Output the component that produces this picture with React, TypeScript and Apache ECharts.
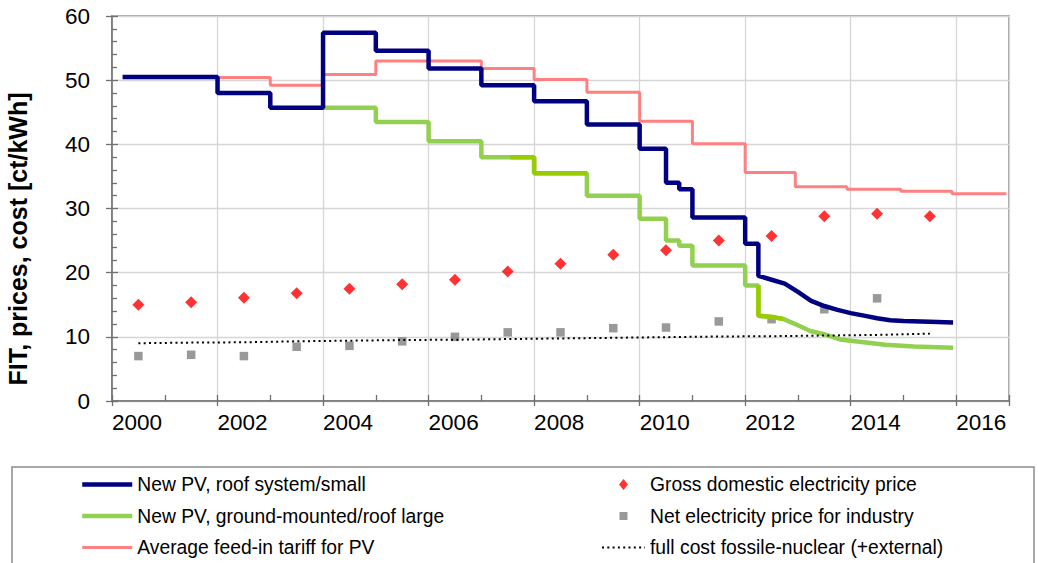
import React, { useEffect, useRef } from 'react';
import * as echarts from 'echarts';

// ---- Data ----
// Step series: value i applies from year i to year i+1
const roofStepYears = [2000.2, 2002, 2003, 2004, 2005, 2006, 2007, 2008, 2009, 2010, 2010.5, 2010.75, 2011, 2012, 2012.25];
const roofStepValues = [50.5, 48.0, 45.7, 57.4, 54.6, 51.8, 49.2, 46.7, 43.1, 39.3, 34.0, 33.0, 28.6, 24.5];
const roofTailYears = [2012.25, 2012.5, 2012.75, 2013.0, 2013.25, 2013.5, 2013.75, 2014.0, 2014.25, 2014.5, 2014.75, 2015.0, 2015.5, 2015.94];
const roofTailValues = [19.5, 18.9, 18.3, 17.0, 15.6, 14.8, 14.2, 13.7, 13.3, 12.9, 12.6, 12.45, 12.35, 12.25];

const groundStepYears = [2004, 2005, 2006, 2007, 2008, 2009, 2010, 2010.5, 2010.75, 2011, 2012, 2012.25];
const groundStepValues = [45.7, 43.5, 40.5, 38.0, 35.5, 32.0, 28.4, 25.0, 24.2, 21.1, 18.0];
const groundTailYears = [2012.25, 2012.5, 2012.72, 2013.0, 2013.23, 2013.5, 2013.8, 2014.0, 2014.25, 2014.65, 2015.2, 2015.94];
const groundTailValues = [13.3, 13.1, 12.8, 11.8, 10.9, 10.4, 9.6, 9.4, 9.15, 8.75, 8.5, 8.3];

// darker green highlighted parts of the ground-mounted curve
const groundDarkA = [[2007.55, 38.0], [2008, 38.0], [2008, 35.5], [2009, 35.5]];
const groundDarkB = [[2012.25, 18.0], [2012.25, 13.3], [2012.5, 13.1], [2012.72, 12.8]];

const avgStepYears = [2002, 2003, 2004, 2005, 2007, 2008, 2009, 2010, 2011, 2012, 2012.95, 2013.93, 2014.95, 2015.92, 2016.95];
const avgStepValues = [50.4, 49.2, 50.9, 53.0, 51.8, 50.1, 48.1, 43.6, 40.1, 35.6, 33.4, 33.0, 32.7, 32.3];

const grossYears = [2000.5, 2001.5, 2002.5, 2003.5, 2004.5, 2005.5, 2006.5, 2007.5, 2008.5, 2009.5, 2010.5, 2011.5, 2012.5, 2013.5, 2014.5, 2015.5];
const grossValues = [15.0, 15.4, 16.1, 16.8, 17.5, 18.2, 18.9, 20.2, 21.4, 22.8, 23.5, 25.0, 25.7, 28.8, 29.2, 28.8];

const industryYears = [2000.5, 2001.5, 2002.5, 2003.5, 2004.5, 2005.5, 2006.5, 2007.5, 2008.5, 2009.5, 2010.5, 2011.5, 2012.5, 2013.5, 2014.5];
const industryValues = [7.0, 7.2, 7.0, 8.45, 8.6, 9.3, 10.0, 10.7, 10.7, 11.35, 11.45, 12.4, 12.75, 14.3, 16.0];

const fullCostYears = [2000.5, 2001.5, 2002.5, 2003.5, 2004.5, 2005.5, 2006.5, 2007.5, 2008.5, 2009.5, 2010.5, 2011.5, 2012.5, 2013.5, 2014.5, 2015.5];
const fullCostValues = [9.0, 9.1, 9.15, 9.3, 9.4, 9.5, 9.55, 9.65, 9.75, 9.85, 9.95, 10.05, 10.1, 10.2, 10.3, 10.5];

const NAME_ROOF = 'New PV, roof system/small';
const NAME_GROUND = 'New PV, ground-mounted/roof large';
const NAME_AVG = 'Average feed-in tariff for PV';
const NAME_GROSS = 'Gross domestic electricity price';
const NAME_IND = 'Net electricity price for industry';
const NAME_FULL = 'full cost fossile-nuclear (+external)';

function stepPath(years: number[], values: number[]): number[][] {
  const pts: number[][] = [];
  for (let i = 0; i < values.length; i++) {
    pts.push([years[i], values[i]]);
    pts.push([years[i + 1], values[i]]);
  }
  return pts;
}
function zip(xs: number[], ys: number[]): number[][] {
  return xs.map((x, i) => [x, ys[i]]);
}

const FONT = '"Liberation Sans", Arial, sans-serif';
const AXIS_COLOR = '#707070';
const GRID_COLOR = '#d6d6d6';
const HIDDEN_SYMBOL = { color: 'rgba(0,0,0,0)', borderWidth: 0, opacity: 0 };
// legend icons drawn inside a 43x12 frame so that they are not stretched
const LEGEND_DIAMOND = 'path://M0 0L0.01 0M43 12L42.99 12M21.5 0.5L26 6L21.5 11.5L17 6Z';
const LEGEND_SQUARE = 'path://M0 0L0.01 0M43 12L42.99 12M17.5 2L25.5 2L25.5 10L17.5 10Z';

export default function App() {
  const ref = useRef<HTMLDivElement>(null);
  useEffect(() => {
    document.body.style.margin = '0';
    if (!ref.current) return;
    const chart = echarts.init(ref.current, undefined, { renderer: 'svg' });
    const tickLine = { color: AXIS_COLOR, width: 1.3 };
    const option: any = {
      animation: false,
      grid: {
        left: 112, top: 16, right: 29, bottom: 162,
        show: true, borderColor: '#878787', borderWidth: 1.5, backgroundColor: 'transparent',
      },
      xAxis: [
        {
          type: 'value', min: 2000, max: 2017, interval: 2, position: 'bottom',
          axisLine: { show: true, lineStyle: { color: AXIS_COLOR, width: 1.5 } },
          axisTick: { show: true, inside: true, length: 6, lineStyle: tickLine },
          minorTick: { show: true, splitNumber: 2, length: 6, lineStyle: tickLine },
          splitLine: { show: true, lineStyle: { color: GRID_COLOR, width: 1.3 } },
          minorSplitLine: { show: false },
          axisLabel: {
            align: 'left', margin: 10, fontSize: 22.5, color: '#000', fontFamily: FONT,
            formatter: (v: number) => (v % 2 === 0 ? String(v) : ''),
          },
        },
        {
          type: 'value', min: 2000, max: 2017, interval: 2, position: 'bottom',
          axisLine: { show: false },
          axisTick: { show: true, inside: false, length: 5, lineStyle: tickLine },
          axisLabel: { show: false },
          splitLine: { show: false },
        },
      ],
      yAxis: [
        {
          type: 'value', min: 0, max: 60, interval: 10, position: 'left',
          axisLine: { show: true, lineStyle: { color: AXIS_COLOR, width: 1.5 } },
          axisTick: { show: true, inside: true, length: 6, lineStyle: tickLine },
          minorTick: { show: true, splitNumber: 5, length: 5, lineStyle: tickLine },
          splitLine: { show: true, lineStyle: { color: GRID_COLOR, width: 1.3 } },
          axisLabel: { margin: 22, fontSize: 22.5, color: '#000', fontFamily: FONT },
        },
        {
          type: 'value', min: 0, max: 60, interval: 10, position: 'left',
          axisLine: { show: false },
          axisTick: { show: true, inside: false, length: 6, lineStyle: tickLine },
          axisLabel: { show: false },
          splitLine: { show: false },
        },
      ],
      legend: [
        {
          orient: 'vertical', left: 80, top: 475, padding: 0,
          itemWidth: 50, itemHeight: 14, itemGap: 12.5, selectedMode: false,
          lineStyle: { width: 'inherit' },
          itemStyle: HIDDEN_SYMBOL,
          textStyle: { fontSize: 19.3, color: '#000', fontFamily: FONT },
          data: [NAME_ROOF, NAME_GROUND, NAME_AVG],
        },
        {
          orient: 'vertical', left: 601, top: 475, padding: 0,
          itemWidth: 43, itemHeight: 12, itemGap: 12.5, selectedMode: false,
          lineStyle: { width: 'inherit' },
          textStyle: { fontSize: 19.3, color: '#000', fontFamily: FONT },
          data: [
            { name: NAME_GROSS, icon: LEGEND_DIAMOND },
            { name: NAME_IND, icon: LEGEND_SQUARE },
            { name: NAME_FULL, itemStyle: HIDDEN_SYMBOL },
          ],
        },
      ],
      graphic: [
        {
          type: 'rect', silent: true,
          shape: { x: 12, y: 467, width: 1022, height: 110 },
          style: { fill: 'none', stroke: '#8c8c8c', lineWidth: 1.5 },
        },
        {
          type: 'text', x: 18, y: 239, rotation: Math.PI / 2, silent: true,
          style: {
            text: 'FIT, prices, cost [ct/kWh]', fontSize: 25, fontWeight: 'bold', fontFamily: FONT,
            fill: '#000', align: 'center', verticalAlign: 'middle',
          },
        },
      ],
      series: [
        {
          name: NAME_AVG, type: 'line', data: stepPath(avgStepYears, avgStepValues),
          symbol: 'none', showSymbol: false,
          lineStyle: { color: '#FF8080', width: 3 }, itemStyle: { color: '#FF8080' },
        },
        {
          name: NAME_GROUND, type: 'line',
          data: stepPath(groundStepYears, groundStepValues).concat(zip(groundTailYears, groundTailValues)),
          symbol: 'none', showSymbol: false,
          lineStyle: { color: '#92D050', width: 4.5 }, itemStyle: { color: '#92D050' },
        },
        {
          name: 'ground-dark-a', type: 'line', data: groundDarkA, symbol: 'none', showSymbol: false,
          lineStyle: { color: '#99CC00', width: 4.5 }, itemStyle: { color: '#99CC00' },
        },
        {
          name: 'ground-dark-b', type: 'line', data: groundDarkB, symbol: 'none', showSymbol: false,
          lineStyle: { color: '#99CC00', width: 4.5 }, itemStyle: { color: '#99CC00' },
        },
        {
          name: NAME_ROOF, type: 'line',
          data: stepPath(roofStepYears, roofStepValues).concat(zip(roofTailYears, roofTailValues)),
          symbol: 'none', showSymbol: false,
          lineStyle: { color: '#000080', width: 4.5 }, itemStyle: { color: '#000080' },
        },
        {
          name: NAME_FULL, type: 'line', data: zip(fullCostYears, fullCostValues),
          symbol: 'none', showSymbol: false,
          lineStyle: { color: '#000000', width: 2, type: [2, 3.3] }, itemStyle: { color: '#000000' },
        },
        {
          name: NAME_GROSS, type: 'scatter', data: zip(grossYears, grossValues),
          symbol: 'diamond', symbolSize: 12, itemStyle: { color: '#FF0000' },
        },
        {
          name: NAME_IND, type: 'scatter', data: zip(industryYears, industryValues),
          symbol: 'rect', symbolSize: 8.5, itemStyle: { color: '#808080' },
        },
      ],
    };
    chart.setOption(option);
    return () => chart.dispose();
  }, []);
  return <div ref={ref} style={{ width: 1038, height: 563 }} />;
}
